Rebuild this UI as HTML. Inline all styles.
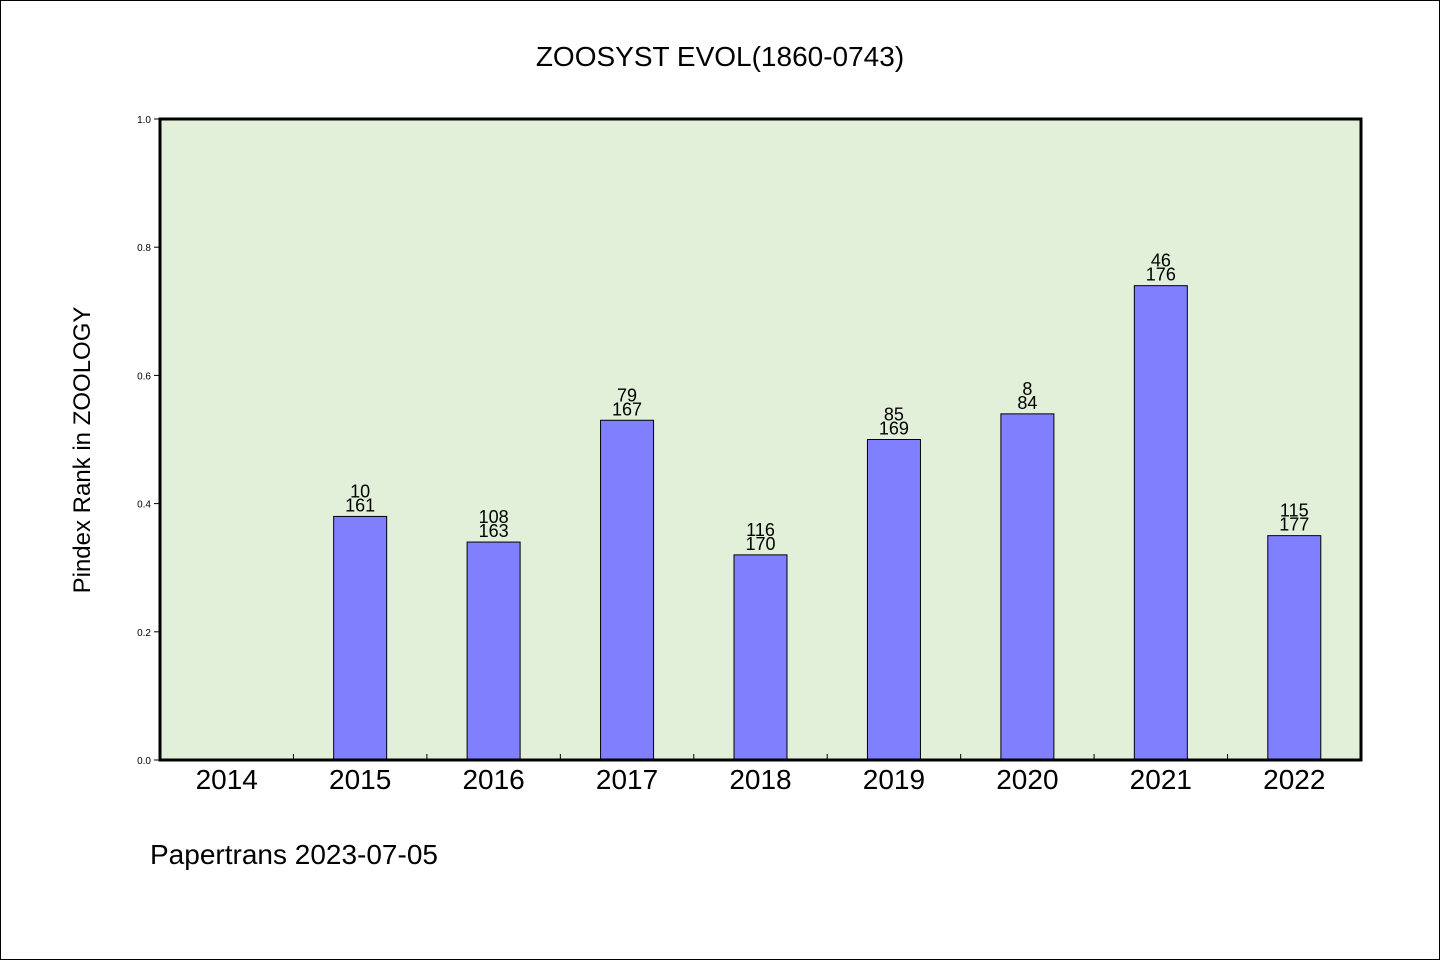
<!DOCTYPE html>
<html><head><meta charset="utf-8"><style>
body{margin:0;background:#fff}
svg{display:block}
text{font-family:"WenQuanYi Zen Hei","Liberation Sans",sans-serif}
</style></head><body>
<svg width="1440" height="960">
<rect x="0.5" y="0.5" width="1439" height="959" fill="#fff" stroke="#000"/>
<text x="720" y="66" text-anchor="middle" font-size="28">ZOOSYST EVOL(1860-0743)</text>
<rect x="160" y="119" width="1201" height="641" fill="#e2efd9"/>
<g id="bars"></g>
<g id="axes"></g>
<rect x="160" y="119" width="1201" height="641" fill="none" stroke="#000" stroke-width="3"/>
<text x="90" y="450" transform="rotate(-90 90 450)" text-anchor="middle" font-size="24">Pindex Rank in ZOOLOGY</text>
<text x="150" y="864" font-size="28">Papertrans 2023-07-05</text>
</svg>
<script>
const categories=["2014","2015","2016","2017","2018","2019","2020","2021","2022"];
const values=[0,0.38,0.34,0.53,0.32,0.50,0.54,0.74,0.35];
const topLabels=["","10","108","79","116","85","8","46","115"];
const bottomLabels=["","161","163","167","170","169","84","176","177"];
const yTicks=[0,0.2,0.4,0.6,0.8,1.0];
const X0=160,X1=1361,Y0=760,Y1=119;
const NS="http://www.w3.org/2000/svg";
const step=(X1-X0)/categories.length;
const xc=i=>X0+step*(i+0.5);
const y=v=>Y0-(Y0-Y1)*v;
function mk(tag,attrs,parent,txt){const e=document.createElementNS(NS,tag);for(const k in attrs)e.setAttribute(k,attrs[k]);if(txt!==undefined)e.textContent=txt;parent.appendChild(e);return e;}
const bars=document.getElementById('bars'),axes=document.getElementById('axes');
categories.forEach((c,i)=>{
  if(values[i]>0){
    const r=mk('rect',{x:xc(i)-26.5,y:y(values[i]),width:53,height:Y0-y(values[i]),fill:'#8080ff',stroke:'#000','stroke-width':1},bars);
    
    
  }
  if(topLabels[i]){
    const t=mk('text',{x:xc(i),y:y(values[i])-19,'text-anchor':'middle','font-size':18},bars,topLabels[i]);
    
    
    const b=mk('text',{x:xc(i),y:y(values[i])-5,'text-anchor':'middle','font-size':18},bars,bottomLabels[i]);
    
    
  }
  const l=mk('text',{x:xc(i),y:789,'text-anchor':'middle','font-size':28},axes,c);
  
  
  if(i>0){
    const tk=mk('line',{x1:X0+step*i,x2:X0+step*i,y1:Y0,y2:Y0-6,stroke:'#000'},axes);
    
    
  }
});
yTicks.forEach(v=>{
  const tk=mk('line',{x1:X0-6,x2:X0,y1:y(v),y2:y(v),stroke:'#000'},axes);
  
  
  const t=mk('text',{x:151,y:y(v)+4,'text-anchor':'end','font-size':10,'font-family':'Liberation Sans, sans-serif'},axes,v.toFixed(1));
  
  
});
</script>
</body></html>
